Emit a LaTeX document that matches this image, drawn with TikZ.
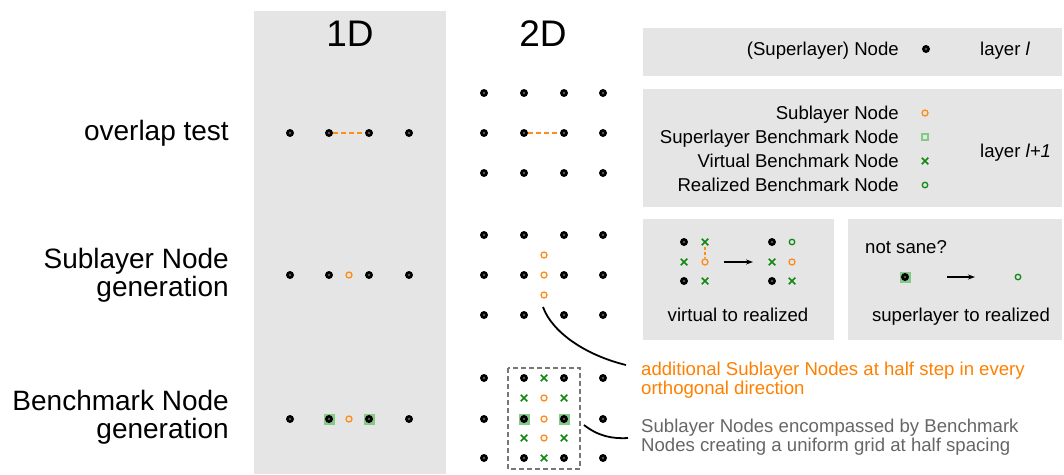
\documentclass[tikz,border=0pt]{standalone}
\usepackage{fontspec}
\setmainfont{Liberation Sans}
\usetikzlibrary{shapes.misc,arrows.meta}
\definecolor{panel}{HTML}{E5E5E5}
\definecolor{sub}{HTML}{FF8C1A}
\definecolor{subtext}{HTML}{FF8000}
\definecolor{vgreen}{HTML}{118811}
\definecolor{sqgreen}{HTML}{86C886}
\definecolor{note}{HTML}{666666}
\definecolor{boxgray}{HTML}{777777}
\tikzset{
  bdot/.style={circle,fill=black,inner sep=0pt,minimum size=8pt,
    path picture={\draw[gray!80!black,line width=0.45pt] (path picture bounding box.center) circle (1pt);}},
  sdot/.style={circle,draw=sub,line width=1.3pt,inner sep=0pt,minimum size=6pt},
  rdot/.style={circle,draw=vgreen,line width=1.3pt,inner sep=0pt,minimum size=5.5pt},
  vx/.style={cross out,draw=vgreen,line width=1.5pt,inner sep=0pt,minimum size=5pt},
  bsq/.style={rectangle,fill=sqgreen,inner sep=0pt,minimum size=11pt},
  lsq/.style={rectangle,draw=sqgreen,fill=sqgreen!30,line width=2.2pt,inner sep=0pt,minimum size=6.5pt},
  panelbg/.style={fill=panel,draw=none},
  rowlabel/.style={font=\fontsize{28}{28}\selectfont,align=right,anchor=east,inner sep=0pt},
  title/.style={font=\fontsize{37}{37}\selectfont,inner sep=0pt},
  small/.style={font=\fontsize{18.6}{19}\selectfont,inner sep=0pt},
  ovl/.style={draw=sub,line width=1.8pt,dash pattern=on 5pt off 3pt},
  connector/.style={draw=black,line width=1.8pt},
  stepar/.style={draw=black,line width=1.5pt,-{Stealth[length=7pt,width=5pt]}},
  bmbox/.style={draw=boxgray,line width=1.5pt,dash pattern=on 5pt off 3pt}
}
\begin{document}
\begin{tikzpicture}[x=1pt,y=-1pt]
\useasboundingbox (0,0) rectangle (1064,474);
% panels
\fill[panelbg] (254,11) rectangle (446,474);
\fill[panelbg] (643,28) rectangle (1062,76);
\fill[panelbg] (643,89) rectangle (1062,207);
\fill[panelbg] (643,219) rectangle (834,340);
\fill[panelbg] (848,219) rectangle (1062,340);
% titles
\node[title] (t1) at (350,33.5) {1D};
\node[title] (t2) at (543,33.5) {2D};
% row labels
\node[rowlabel] (r1) at (229,133) {overlap test};
\node[rowlabel] (r2) at (229,275) {Sublayer Node\\generation};
\node[rowlabel] (r3) at (229,417) {Benchmark Node\\generation};
% 1D overlap
\foreach \x [count=\i] in {290,329,369,409} \node[bdot] (a\i) at (\x,133) {};
\draw[ovl] (a2) -- (a3);
% 1D sublayer
\foreach \x [count=\i] in {290,329,369,409} \node[bdot] (b\i) at (\x,275) {};
\node[sdot] (bs) at (349,275) {};
% 1D benchmark
\node[bsq] (cq2) at (329,419) {};
\node[bsq] (cq3) at (369,419) {};
\foreach \x [count=\i] in {290,329,369,409} \node[bdot] (c\i) at (\x,419) {};
\node[sdot] (cs) at (349,419) {};
% 2D overlap
\foreach \x [count=\i] in {484,524,564,603}
  \foreach \y [count=\j] in {93,133,173}
    \node[bdot] (o-\i-\j) at (\x,\y) {};
\draw[ovl] (o-2-2) -- (o-3-2);
% 2D sublayer
\foreach \x [count=\i] in {484,524,564,603}
  \foreach \y [count=\j] in {235,275,315}
    \node[bdot] (p-\i-\j) at (\x,\y) {};
\node[sdot] (ps1) at (544,255) {};
\node[sdot] (ps2) at (544,275) {};
\node[sdot] (ps3) at (544,295) {};
% 2D benchmark
\draw[bmbox] (508,368) rectangle (580,469);
\node[bsq] (qq2) at (524,419) {};
\node[bsq] (qq3) at (564,419) {};
\foreach \x [count=\i] in {484,524,564,603}
  \foreach \y [count=\j] in {378,419,458}
    \node[bdot] (q-\i-\j) at (\x,\y) {};
\node[vx] (qx1) at (544,378) {};
\node[vx] (qx2) at (524,398) {};
\node[vx] (qx3) at (564,398) {};
\node[vx] (qx4) at (524,438) {};
\node[vx] (qx5) at (564,438) {};
\node[vx] (qx6) at (544,458) {};
\node[sdot] (qs1) at (544,398) {};
\node[sdot] (qs2) at (544,419) {};
\node[sdot] (qs3) at (544,438) {};
% legend layer l
\node[small,anchor=base east] (lg0) at (899,55) {(Superlayer) Node};
\node[bdot] (lgd0) at (926,49) {};
\node[small,anchor=base west] (ll) at (980,55) {layer \textit{l}};
% legend layer l+1
\node[small,anchor=base east] (lg1) at (899,119) {Sublayer Node};
\node[sdot] (lgd1) at (925,113) {};
\node[small,anchor=base east] (lg2) at (899,143) {Superlayer Benchmark Node};
\node[lsq] (lgd2) at (925,137) {};
\node[small,anchor=base east] (lg3) at (899,167) {Virtual Benchmark Node};
\node[vx] (lgd3) at (925,161) {};
\node[small,anchor=base east] (lg4) at (899,191) {Realized Benchmark Node};
\node[rdot] (lgd4) at (925,185) {};
\node[small,anchor=base west] (ll1) at (980,157) {layer \textit{l+1}};
% virtual to realized
\node[bdot] (v11) at (684,242) {};
\node[vx] (v21) at (705,242) {};
\node[vx] (v12) at (684,262) {};
\node[sdot] (v22) at (705,262) {};
\node[bdot] (v13) at (684,281) {};
\node[vx] (v23) at (705,281) {};
\draw[draw=sub,line width=1.5pt,dash pattern=on 3pt off 2pt,shorten <=2pt] (v21) -- (v22);
\coordinate (va1) at (724,262);
\coordinate (va2) at (753,262);
\draw[stepar] (va1) -- (va2);
\node[bdot] (w11) at (772,242) {};
\node[rdot] (w21) at (792,242) {};
\node[vx] (w12) at (772,262) {};
\node[sdot] (w22) at (792,262) {};
\node[bdot] (w13) at (772,281) {};
\node[vx] (w23) at (792,281) {};
\node[small,anchor=base] (vtr) at (738,321) {virtual to realized};
% superlayer to realized
\node[small,anchor=base west] (ns) at (865,253) {not sane?};
\node[bsq] (sq) at (905,277) {};
\node[bdot] (sd) at (905,277) {};
\coordinate (sa1) at (947,277);
\coordinate (sa2) at (975,277);
\draw[stepar] (sa1) -- (sa2);
\node[rdot] (sr) at (1018,277) {};
\node[small,anchor=base] (str) at (961,321) {superlayer to realized};
% annotations
\node[small,anchor=north west,align=left,text=subtext] (ann1) at (641,361.5)
  {additional Sublayer Nodes at half step in every\\orthogonal direction};
\node[small,anchor=north west,align=left,text=note] (ann2) at (641,418.5)
  {Sublayer Nodes encompassed by Benchmark\\Nodes creating a uniform grid at half spacing};
\coordinate (k1s) at (543,307);
\coordinate (k1e) at (626,365);
\draw[connector] (k1s) .. controls (552,332) and (585,355) .. (k1e);
\coordinate (k2s) at (584,425);
\coordinate (k2e) at (628,438);
\draw[connector] (k2s) .. controls (598,436) and (612,439) .. (k2e);
\end{tikzpicture}
\end{document}
